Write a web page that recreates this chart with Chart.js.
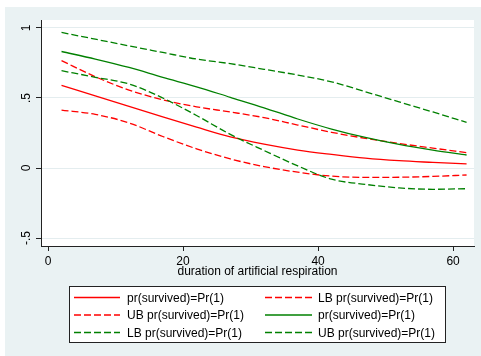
<!DOCTYPE html>
<html>
<head>
<meta charset="utf-8">
<script src="https://cdn.jsdelivr.net/npm/chart.js@4/dist/chart.umd.min.js"></script>
<style>
  html, body { margin: 0; padding: 0; background: #ffffff; }
  #wrap { width: 481px; height: 356px; }
</style>
</head>
<body>
<div id="wrap"><canvas id="chart" width="481" height="356"></canvas></div>
<script>
// Duration of artificial respiration at which the predictions are evaluated
const xDuration = [2, 7, 12, 17, 22, 27, 32, 37, 42, 47, 52, 57, 62];

// Group 1 (red): prediction with lower / upper bounds
const prGroup1 = [0.590, 0.515, 0.440, 0.365, 0.292, 0.222, 0.170, 0.128, 0.097, 0.070, 0.052, 0.040, 0.029];
const lbGroup1 = [0.414, 0.383, 0.322, 0.225, 0.137, 0.065, 0.010, -0.030, -0.058, -0.067, -0.066, -0.060, -0.050];
const ubGroup1 = [0.767, 0.652, 0.557, 0.487, 0.437, 0.400, 0.360, 0.307, 0.255, 0.212, 0.175, 0.142, 0.110];

// Group 2 (green): prediction with lower / upper bounds
const prGroup2 = [0.832, 0.778, 0.718, 0.647, 0.580, 0.505, 0.430, 0.350, 0.278, 0.218, 0.168, 0.128, 0.093];
const lbGroup2 = [0.695, 0.648, 0.600, 0.500, 0.375, 0.240, 0.125, 0.015, -0.080, -0.117, -0.142, -0.152, -0.148];
const ubGroup2 = [0.968, 0.920, 0.872, 0.825, 0.778, 0.745, 0.705, 0.664, 0.615, 0.545, 0.472, 0.400, 0.326];

const seriesLabels = [
  'pr(survived)=Pr(1)', 'LB pr(survived)=Pr(1)', 'UB pr(survived)=Pr(1)',
  'pr(survived)=Pr(1)', 'LB pr(survived)=Pr(1)', 'UB pr(survived)=Pr(1)'
];

const xTickValues = [0, 20, 40, 60];
const yTickValues = [-0.5, 0, 0.5, 1];
const yTickLabels = ['-.5', '0', '.5', '1'];
const xAxisTitle = 'duration of artificial respiration';

const FONT = '"Liberation Sans", Arial, sans-serif';
const RED = '#ff0000';
const GREEN = '#008000';
const DASH = [7, 3];

const seriesValues = [prGroup1, lbGroup1, ubGroup1, prGroup2, lbGroup2, ubGroup2];
const seriesColors = [RED, RED, RED, GREEN, GREEN, GREEN];
const seriesDashed = [false, true, true, false, true, true];

const datasets = seriesValues.map((vals, i) => ({
  label: seriesLabels[i],
  data: xDuration.map((x, j) => ({ x: x, y: vals[j] })),
  borderColor: seriesColors[i],
  borderWidth: 1.3,
  borderDash: seriesDashed[i] ? DASH : [],
  pointRadius: 0,
  fill: false,
  cubicInterpolationMode: 'monotone',
  order: seriesValues.length - i
}));

// Light outer panel with a white plot region
const backdrop = {
  id: 'backdrop',
  beforeDraw(chart) {
    const ctx = chart.ctx, a = chart.chartArea;
    ctx.save();
    ctx.fillStyle = '#ffffff';
    ctx.fillRect(0, 0, chart.width, chart.height);
    ctx.fillStyle = '#eaf2f3';
    ctx.fillRect(5, 7, chart.width - 5, chart.height - 7);
    ctx.fillStyle = '#ffffff';
    ctx.fillRect(a.left, a.top, a.right - a.left, a.bottom - a.top);
    ctx.restore();
  }
};

// Boxed two-column legend below the axis title
const boxLegend = {
  id: 'boxLegend',
  afterDraw(chart) {
    const ctx = chart.ctx;
    const box = { x: 69.5, y: 286.5, w: 376, h: 56 };
    const rows = [297.5, 315, 332.5];
    const cols = [{ x0: 74, x1: 120, tx: 127 }, { x0: 265, x1: 312, tx: 318 }];
    ctx.save();
    ctx.fillStyle = '#ffffff';
    ctx.fillRect(box.x, box.y, box.w, box.h);
    ctx.strokeStyle = '#222222';
    ctx.lineWidth = 1;
    ctx.setLineDash([]);
    ctx.strokeRect(box.x, box.y, box.w, box.h);
    chart.data.datasets.forEach((ds, i) => {
      const r = Math.floor(i / 2), c = cols[i % 2], y = rows[r];
      ctx.strokeStyle = ds.borderColor;
      ctx.lineWidth = ds.borderWidth;
      ctx.setLineDash(ds.borderDash || []);
      ctx.beginPath();
      ctx.moveTo(c.x0, y);
      ctx.lineTo(c.x1, y);
      ctx.stroke();
      ctx.setLineDash([]);
      ctx.fillStyle = '#000000';
      ctx.font = '12px ' + FONT;
      ctx.textBaseline = 'middle';
      ctx.textAlign = 'left';
      ctx.fillText(ds.label, c.tx, y + 1);
    });
    ctx.restore();
  }
};

new Chart(document.getElementById('chart'), {
  type: 'line',
  data: { datasets: datasets },
  options: {
    responsive: false,
    animation: false,
    devicePixelRatio: 1,
    layout: { padding: { left: 0, top: 20, right: 7, bottom: 77 } },
    plugins: { legend: { display: false }, tooltip: { enabled: false } },
    scales: {
      x: {
        type: 'linear',
        position: 'bottom',
        min: -1.04,
        max: 63.1,
        afterBuildTicks: s => { s.ticks = xTickValues.map(v => ({ value: v })); },
        afterFit: s => { s.height = 33; },
        ticks: {
          color: '#000000',
          font: { family: FONT, size: 12 },
          padding: 3,
          maxRotation: 0,
          callback: v => String(v)
        },
        grid: { drawOnChartArea: false, tickLength: 5, tickColor: '#222222', lineWidth: 1 },
        border: { display: true, color: '#222222', width: 1 },
        title: {
          display: true,
          text: xAxisTitle,
          color: '#000000',
          font: { family: FONT, size: 12 },
          padding: 0
        }
      },
      y: {
        type: 'linear',
        position: 'left',
        min: -0.557,
        max: 1.057,
        afterBuildTicks: s => { s.ticks = yTickValues.map(v => ({ value: v })); },
        afterFit: s => { s.width = 41; },
        ticks: {
          color: '#000000',
          font: { family: FONT, size: 12 },
          padding: 2,
          minRotation: 90,
          maxRotation: 90,
          crossAlign: 'center',
          callback: v => {
            const k = yTickValues.findIndex(t => Math.abs(t - v) < 1e-9);
            return k >= 0 ? yTickLabels[k] : '';
          }
        },
        grid: { color: '#e4edef', lineWidth: 1, tickLength: 5, tickColor: '#222222' },
        border: { display: true, color: '#222222', width: 1 }
      }
    }
  },
  plugins: [backdrop, boxLegend]
});
</script>
</body>
</html>
